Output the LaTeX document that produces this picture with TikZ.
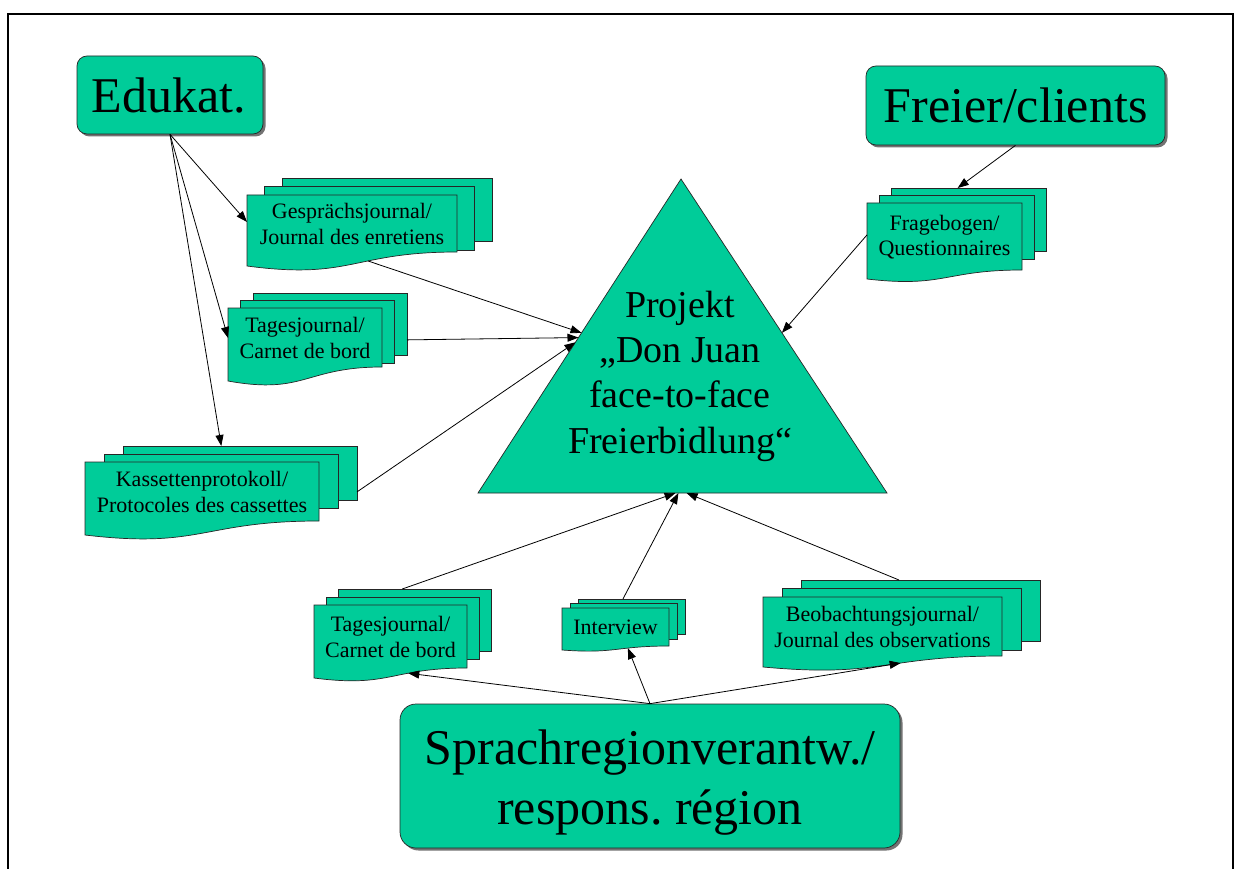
\documentclass[tikz,border=0pt]{standalone}
\usepackage{fontspec}
\setmainfont{Liberation Serif}
\usetikzlibrary{arrows.meta,calc,shadows}
\definecolor{docgreen}{RGB}{0,204,153}
\frenchspacing
% #1 name, #2 x1, #3 x2, #4 top, #5 right bottom, #6 left bottom, #7 dx, #8 dy, #9 middle-layer bottom
\newcommand\mdoc[9]{%
  \pgfmathsetmacro\mdW{#3-#2}%
  \pgfmathsetmacro\mdH{#9-#4+#8}%
  \node[layer, minimum width=\mdW pt, minimum height=\mdH pt, anchor=north west] (#1-back) at ({#2+2*#7},{#4-2*#8}) {};
  \node[layer, minimum width=\mdW pt, minimum height=\mdH pt, anchor=north west] (#1-mid) at ({#2+#7},{#4-#8}) {};
  \filldraw[front] (#2,#4) coordinate (#1-fnw) -- (#3,#4) coordinate (#1-fne) -- (#3,#5) coordinate (#1-fse)
     .. controls ({(#2+#3)/2},#5) and ({(#2+#3)/2},{2*#6-#5}) .. (#2,#6) coordinate[pos=0.35] (#1-wa) coordinate[pos=0.4] (#1-wb) coordinate (#1-fsw) -- cycle;
  \coordinate (#1-c) at ({(#2+#3)/2},{(#4+#5)/2+0.5});
}
\begin{document}
\begin{tikzpicture}[x=1pt,y=-1pt,
  layer/.style={draw=black!85, fill=docgreen, line width=0.7pt, inner sep=0pt, outer sep=0pt},
  front/.style={draw=black!85, fill=docgreen, line width=0.7pt},
  doctext/.style={font=\fontsize{22}{25.5}\selectfont, align=center, inner sep=0pt},
  bigbox/.style={draw=black!85, fill=docgreen, line width=0.7pt, inner sep=0pt,
     drop shadow={shadow xshift=2.5pt, shadow yshift=-2.5pt, fill=black!55, opacity=1}},
  bigtext/.style={font=\fontsize{50}{60}\selectfont, align=center, inner sep=0pt},
  projtext/.style={font=\fontsize{38}{45.3}\selectfont, align=center, inner sep=0pt},
  conn/.style={draw=black, line width=0.8pt, -{Triangle[length=11pt,width=8pt]}},
  frameline/.style={draw=black, line width=2.5pt},
]
\useasboundingbox (0,0) rectangle (1245,869);
\fill[white] (0,0) rectangle (1245,869);
% frame
\draw[frameline] (8,869) -- (8,14) -- (1233,14) -- (1233,869);

% central triangle
\coordinate (apex) at (681,179);
\coordinate (br) at (887,493);
\coordinate (bl) at (478,493);
\filldraw[front] (apex) -- (br) -- (bl) -- cycle;
\node[projtext] (proj) at (680,376) {Projekt\\„Don Juan\\face-to-face\\Freierbidlung“};

% rounded boxes
\node[bigbox, rounded corners=10pt, minimum width=186pt, minimum height=78pt] (edu) at (170,95) {};
\node[bigtext, anchor=base] (edut) at (169,113) {Edukat.};
\node[bigbox, rounded corners=10pt, minimum width=299pt, minimum height=79pt] (fre) at (1015.5,105.5) {};
\node[bigtext, anchor=base] (fret) at (1015.5,123) {Freier/clients};
\node[bigbox, rounded corners=16pt, minimum width=500pt, minimum height=144pt] (spr) at (650,776) {};
\node[bigtext] (sprt) at (650,783) {Sprachregionverantw./\\respons. région};

% documents
\mdoc{G}{247}{457}{195}{252}{266}{17.5}{8.5}{250}
\node[doctext] (Gt) at (G-c) {Gesprächsjournal/\\Journal des enretiens};
\mdoc{Tl}{228}{382}{308}{367}{381}{12.5}{7.5}{363}
\node[doctext] (Tlt) at (Tl-c) {Tagesjournal/\\Carnet de bord};
\mdoc{K}{85}{319}{462}{521}{535}{19}{8}{508}
\node[doctext] (Kt) at (K-c) {Kassettenprotokoll/\\Protocoles des cassettes};
\mdoc{F}{867}{1022}{203}{270}{279}{12}{7.5}{259}
\node[doctext] (Ft) at (F-c) {Fragebogen/\\Questionnaires};
\mdoc{Tb}{314}{467}{605}{668}{678}{12}{8}{659}
\node[doctext] (Tbt) at (Tb-c) {Tagesjournal/\\Carnet de bord};
\mdoc{I}{562}{669}{608}{646}{650}{8}{4.5}{639}
\node[doctext] (It) at (I-c) {Interview};
\mdoc{B}{763}{1002}{597}{656}{667}{19}{8.5}{650}
\node[doctext] (Bt) at (B-c) {Beobachtungsjournal/\\Journal des observations};

% connectors from Edukat.
\draw[conn] (edu.south) -- ($(G-fnw)!0.38!(G-fsw)$);
\draw[conn] (edu.south) -- ($(Tl-fnw)!0.41!(Tl-fsw)$);
\draw[conn] (edu.south) -- ($(K-back.north west)!0.42!(K-back.north east)$);
% connectors into the triangle
\draw[conn] (G-wb) -- ($(apex)!0.49!(bl)$);
\draw[conn] ($(Tl-back.north east)!0.75!(Tl-back.south east)$) -- ($(apex)!0.505!(bl)$);
\draw[conn] ($(K-back.north east)!0.85!(K-back.south east)$) -- ($(apex)!0.52!(bl)$);
\draw[conn] (fre.south) -- ($(F-back.north west)!0.43!(F-back.north east)$);
\draw[conn] ($(F-fnw)!0.42!(F-fsw)$) -- ($(apex)!0.49!(br)$);
\draw[conn] ($(Tb-back.north west)!0.42!(Tb-back.north east)$) -- ($(bl)!0.483!(br)$);
\draw[conn] ($(I-back.north west)!0.42!(I-back.north east)$) -- ($(bl)!0.49!(br)$);
\draw[conn] ($(B-back.north west)!0.41!(B-back.north east)$) -- ($(bl)!0.51!(br)$);
% connectors from Sprachregion
\draw[conn] (spr.north) -- (Tb-wa);
\draw[conn] (spr.north) -- (I-wa);
\draw[conn] (spr.north) -- (B-wb);
\end{tikzpicture}
\end{document}
